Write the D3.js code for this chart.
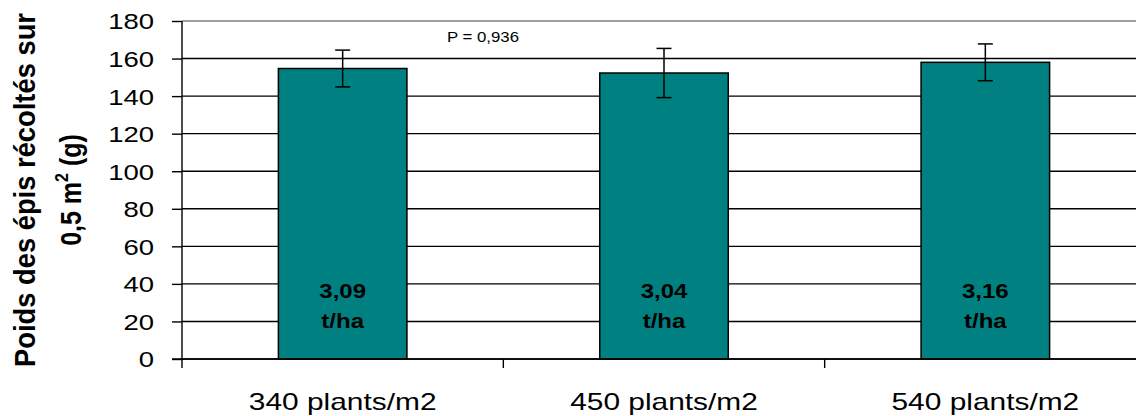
<!DOCTYPE html>
<html>
<head>
<meta charset="utf-8">
<script src="https://cdn.jsdelivr.net/npm/d3@7"></script>
<style>
  body { margin: 0; background: #fff; }
  svg { display: block; font-family: "Liberation Sans", Arial, sans-serif; }
</style>
</head>
<body>
<svg width="1136" height="416"></svg>
<script>
const categories = ["340 plants/m2", "450 plants/m2", "540 plants/m2"]
const weights = [154.7, 152.3, 158.0]
const errors = [9.8, 13.1, 9.8]
const yieldLabels = ["3,09", "3,04", "3,16"]
const yTicks = [0, 20, 40, 60, 80, 100, 120, 140, 160, 180]
const pLabel = "P = 0,936"

const plotLeft = 182
const plotRight = 1146
const plotTop = 21
const plotBottom = 359

const svg = d3.select("svg")

const y = d3.scaleLinear().domain([0, 180]).range([plotBottom, plotTop])
const x = d3.scaleBand()
  .domain(categories)
  .range([plotLeft, plotRight])
  .paddingInner(0.6)
  .paddingOuter(0.3)

const data = categories.map((c, i) => ({c, v: weights[i], e: errors[i], lab: yieldLabels[i]}))

// gridlines
svg.append("g")
  .selectAll("line")
  .data(yTicks)
  .join("line")
  .attr("x1", plotLeft)
  .attr("x2", plotRight)
  .attr("y1", d => y(d))
  .attr("y2", d => y(d))
  .attr("stroke", d => d == 180 ? "#808080" : "#000")
  .attr("stroke-width", 1.4)

// bars
svg.append("g")
  .selectAll("rect")
  .data(data)
  .join("rect")
  .attr("x", d => x(d.c))
  .attr("y", d => y(d.v))
  .attr("width", x.bandwidth())
  .attr("height", d => y(0) - y(d.v))
  .attr("fill", "#008080")
  .attr("stroke", "#000")
  .attr("stroke-width", 1.5)

// error bars
const err = svg.append("g")
  .attr("stroke", "#000")
  .attr("stroke-width", 1.5)
  .selectAll("g")
  .data(data)
  .join("g")
  .attr("transform", d => `translate(${x(d.c) + x.bandwidth() / 2},0)`)
err.append("line")
  .attr("y1", d => y(d.v + d.e))
  .attr("y2", d => y(d.v - d.e))
err.append("line")
  .attr("x1", -7.5).attr("x2", 7.5)
  .attr("y1", d => y(d.v + d.e))
  .attr("y2", d => y(d.v + d.e))
err.append("line")
  .attr("x1", -7.5).attr("x2", 7.5)
  .attr("y1", d => y(d.v - d.e))
  .attr("y2", d => y(d.v - d.e))

// labels in bars
const lab = svg.append("g")
  .selectAll("g")
  .data(data)
  .join("g")
lab.append("text")
  .attr("transform", d => `translate(${x(d.c) + x.bandwidth() / 2},${y(0) - 61}) scale(1.2,1)`)
  .attr("text-anchor", "middle")
  .attr("font-weight", "bold")
  .attr("font-size", 20)
  .text(d => d.lab)
lab.append("text")
  .attr("transform", d => `translate(${x(d.c) + x.bandwidth() / 2},${y(0) - 31}) scale(1.2,1)`)
  .attr("text-anchor", "middle")
  .attr("font-weight", "bold")
  .attr("font-size", 20)
  .text("t/ha")

// y axis
const yAxis = svg.append("g")
  .attr("transform", `translate(${plotLeft},0)`)
  .call(d3.axisLeft(y).tickValues(yTicks).tickSizeInner(10).tickSizeOuter(0))
yAxis.select(".domain").remove()
yAxis.selectAll("line").attr("stroke", "#000").attr("stroke-width", 1.4)
yAxis.selectAll("text")
  .attr("x", -28 / 1.25)
  .attr("dy", "0.36em")
  .attr("transform", "scale(1.25,1)")
  .attr("font-size", 22)
  .attr("fill", "#000")
yAxis.attr("font-family", null).attr("font-size", null)
yAxis.append("line")
  .attr("y1", plotTop)
  .attr("y2", plotBottom + 9)
  .attr("stroke", "#000")
  .attr("stroke-width", 1.4)

// x axis
const xAxis = svg.append("g")
  .attr("transform", `translate(0,${plotBottom})`)
  .call(d3.axisBottom(x).tickSize(0).tickPadding(0))
xAxis.select(".domain").remove()
xAxis.attr("font-family", null).attr("font-size", null)
xAxis.selectAll("text")
  .attr("y", 0)
  .attr("dy", 0)
  .attr("x", 0)
  .attr("transform", "translate(0,51) scale(1.3,1)")
  .attr("font-size", 23)
  .attr("fill", "#000")
svg.append("line")
  .attr("x1", plotLeft - 10)
  .attr("x2", plotRight)
  .attr("y1", plotBottom)
  .attr("y2", plotBottom)
  .attr("stroke", "#000")
  .attr("stroke-width", 1.4)
const step = x.step()
svg.append("g")
  .selectAll("line")
  .data(categories.slice(0, -1))
  .join("line")
  .attr("x1", d => x(d) + x.bandwidth() + step * x.paddingInner() / 2)
  .attr("x2", d => x(d) + x.bandwidth() + step * x.paddingInner() / 2)
  .attr("y1", plotBottom)
  .attr("y2", plotBottom + 9)
  .attr("stroke", "#000")
  .attr("stroke-width", 1.4)

// p value
svg.append("text")
  .attr("transform", "translate(447,42) scale(1.2,1)")
  .attr("font-size", 14)
  .text(pLabel)

// y title
const title = svg.append("g")
  .attr("transform", `translate(35,${(plotTop + plotBottom) / 2}) scale(1.15,1) rotate(-90)`)
  .attr("font-weight", "bold")
  .attr("font-size", 25)
  .attr("text-anchor", "middle")
title.append("text")
  .attr("textLength", 354)
  .attr("lengthAdjust", "spacingAndGlyphs")
  .text("Poids des épis récoltés sur")
const t2 = title.append("text")
  .attr("y", 46 / 1.15)
t2.append("tspan").text("0,5 m")
t2.append("tspan").attr("font-size", 16).attr("dy", -11).text("2")
t2.append("tspan").attr("dy", 11).text(" (g)")
</script>
</body>
</html>
